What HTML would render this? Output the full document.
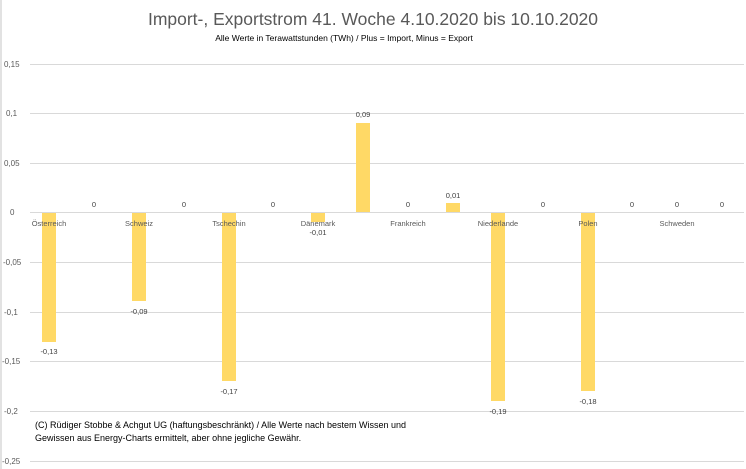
<!DOCTYPE html>
<html><head><meta charset="utf-8"><style>
html,body{margin:0;padding:0;background:#fff;}
svg{display:block;font-family:"Liberation Sans",sans-serif;}
</style></head><body>
<svg width="746" height="469" viewBox="0 0 746 469" xmlns="http://www.w3.org/2000/svg">
<rect x="0" y="0" width="746" height="469" fill="#fff"/>
<line x1="1" y1="0" x2="1" y2="469" stroke="#d9d9d9" stroke-width="1.5"/>
<text x="373" y="25" text-anchor="middle" font-size="17.5" fill="#595959">Import-, Exportstrom 41. Woche 4.10.2020 bis 10.10.2020</text>
<text x="344" y="41" text-anchor="middle" font-size="8.5" fill="#000">Alle Werte in Terawattstunden (TWh) / Plus = Import, Minus = Export</text>
<g stroke="#d9d9d9" stroke-width="1">
<line x1="30" y1="64.5" x2="744" y2="64.5"/>
<line x1="30" y1="113.5" x2="744" y2="113.5"/>
<line x1="30" y1="163.5" x2="744" y2="163.5"/>
<line x1="30" y1="262.5" x2="744" y2="262.5"/>
<line x1="30" y1="312.5" x2="744" y2="312.5"/>
<line x1="30" y1="361.5" x2="744" y2="361.5"/>
<line x1="30" y1="411.5" x2="744" y2="411.5"/>
<line x1="30" y1="461.5" x2="744" y2="461.5"/>
</g>
<g font-size="8" fill="#595959">
<text x="4" y="67">0,15</text>
<text x="6" y="116">0,1</text>
<text x="4" y="166">0,05</text>
<text x="10" y="215">0</text>
<text x="3" y="265">-0,05</text>
<text x="4" y="315">-0,1</text>
<text x="2" y="364">-0,15</text>
<text x="4" y="414">-0,2</text>
<text x="2" y="464">-0,25</text>
</g>
<g fill="#ffd966">
<rect x="42" y="212" width="14" height="130"/>
<rect x="132" y="212" width="14" height="89"/>
<rect x="222" y="212" width="14" height="169"/>
<rect x="311" y="212" width="14" height="10"/>
<rect x="356" y="123" width="14" height="89"/>
<rect x="446" y="203" width="14" height="9"/>
<rect x="491" y="212" width="14" height="189"/>
<rect x="581" y="212" width="14" height="179"/>
</g>
<line x1="30" y1="212.5" x2="744" y2="212.5" stroke="#d9d9d9" stroke-width="1"/>
<g font-size="7.5" fill="#595959" text-anchor="middle">
<text x="49" y="226">Österreich</text>
<text x="139" y="226">Schweiz</text>
<text x="229" y="226">Tschechin</text>
<text x="318" y="226">Dänemark</text>
<text x="408" y="226">Frankreich</text>
<text x="498" y="226">Niederlande</text>
<text x="588" y="226">Polen</text>
<text x="677" y="226">Schweden</text>
</g>
<g font-size="7.5" fill="#404040" text-anchor="middle">
<text x="49" y="354">-0,13</text>
<text x="94" y="207">0</text>
<text x="139" y="314">-0,09</text>
<text x="184" y="207">0</text>
<text x="229" y="394">-0,17</text>
<text x="273" y="207">0</text>
<text x="318" y="235">-0,01</text>
<text x="363" y="117">0,09</text>
<text x="408" y="207">0</text>
<text x="453" y="198">0,01</text>
<text x="498" y="414">-0,19</text>
<text x="543" y="207">0</text>
<text x="588" y="404">-0,18</text>
<text x="632" y="207">0</text>
<text x="677" y="207">0</text>
<text x="722" y="207">0</text>
</g>
<g font-size="9" fill="#000">
<text x="35" y="428">(C) Rüdiger Stobbe &amp; Achgut UG (haftungsbeschränkt) / Alle Werte nach bestem Wissen und</text>
<text x="35" y="441">Gewissen aus Energy-Charts ermittelt, aber ohne jegliche Gewähr.</text>
</g>
</svg>
</body></html>
